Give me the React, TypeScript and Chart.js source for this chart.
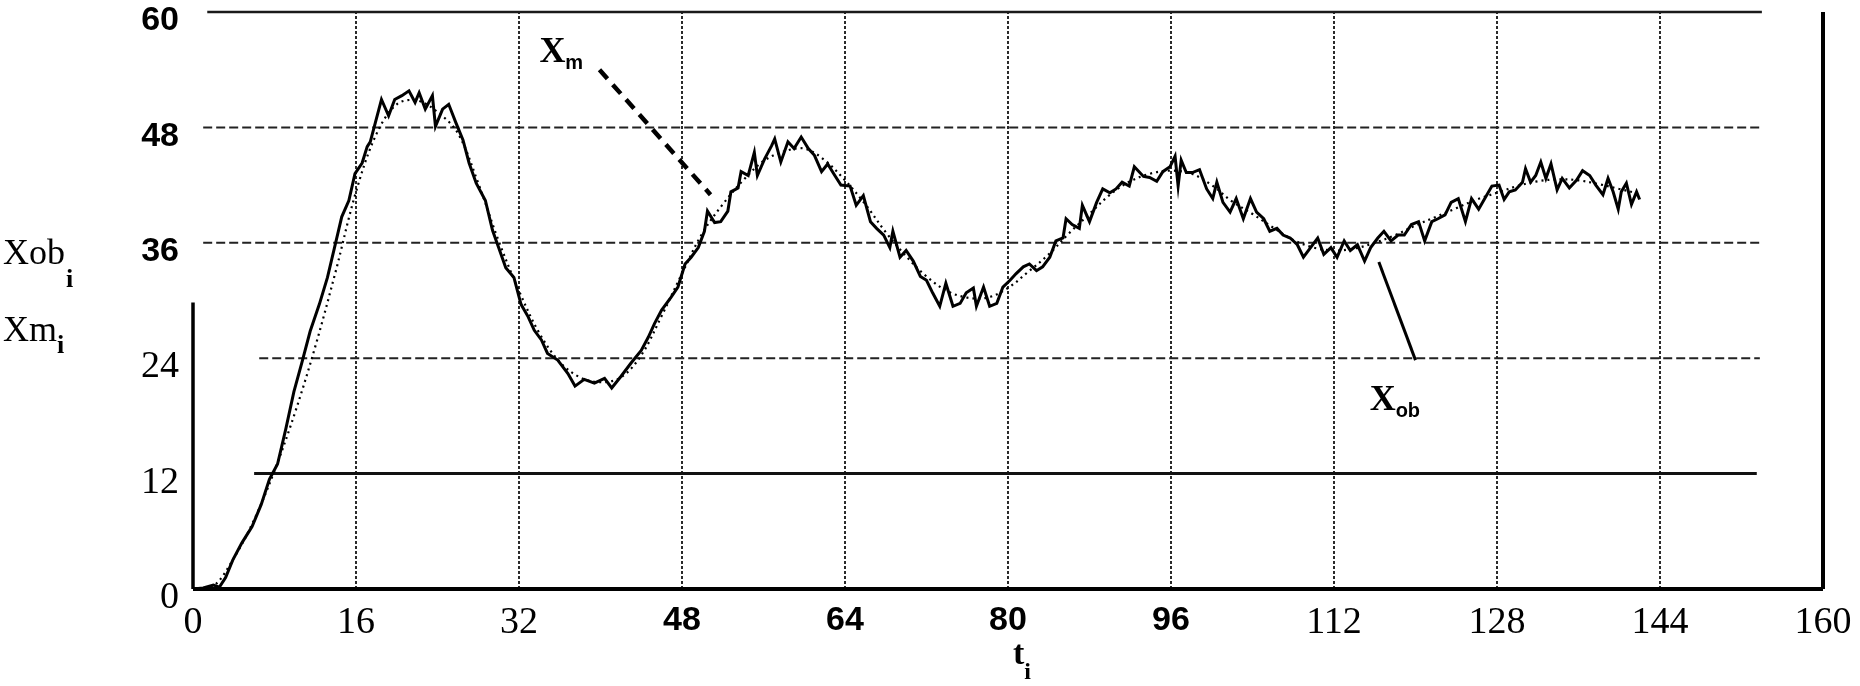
import React, { useEffect, useRef } from 'react';
import { Chart, registerables } from 'chart.js';

Chart.register(...registerables);

// ---- data ----
const X_TICKS = [0, 16, 32, 48, 64, 80, 96, 112, 128, 144, 160];
const Y_TICKS = [0, 12, 24, 36, 48, 60];

// measured (noisy) response Xob
const XOB_T = [
  0, 1, 2, 2.6, 3.2, 3.9, 4.8, 5.8, 6.7, 7.5, 8.3, 9.1, 9.9, 10.7, 11.5, 12.4, 13.2, 14.0, 14.6, 15.3, 15.9,
  16.6, 17.1, 17.4, 17.9, 18.5, 19.2, 19.8, 20.5, 21.2, 21.8, 22.2, 22.8, 23.5, 23.8, 24.5, 25.1, 25.8, 26.5,
  27.1, 27.8, 28.7, 29.4, 30.0, 30.7, 31.5,
  32.2, 32.9, 33.5, 34.2, 34.8, 35.8, 36.8, 37.5, 38.4, 39.4, 40.4, 41.1, 42.0, 43.0, 44.0, 44.7, 45.3, 46.0,
  46.9, 47.6, 48.3, 48.9, 49.6, 50.2, 50.5, 51.2, 51.8, 52.5, 52.8, 53.5, 53.8, 54.5, 55.1, 55.4, 56.1, 56.8,
  57.1, 57.7, 58.4, 59.0, 59.7, 60.4, 61.0, 61.7, 62.3, 63.0, 63.6,
  64.5, 65.1, 65.8, 66.5, 67.1, 67.8, 68.4, 68.7, 69.4, 70.0, 70.7, 71.4, 72.0, 72.6, 73.3, 73.9, 74.6, 75.3,
  75.9, 76.6, 76.9, 77.6, 78.2, 78.9, 79.5, 80.2, 80.8, 81.5, 82.1, 82.8, 83.4, 84.1, 84.7, 85.4, 85.7, 86.3,
  87.0, 87.3, 88.0, 88.7, 89.3, 90.0, 90.6, 91.2, 91.9, 92.4, 93.3, 93.9, 94.6, 95.2, 95.9,
  96.4, 96.7, 97.0, 97.5, 98.1, 98.8, 99.5, 100.1, 100.5, 101.1, 101.8, 102.4, 103.1, 103.8, 104.4, 105.1,
  105.7, 106.4, 107.0, 107.7, 108.4, 109.0, 109.7, 110.4, 111.0, 111.7, 112.3, 113.0, 113.6, 114.3, 115.0,
  115.6, 116.3, 116.9, 117.6, 118.3, 118.9, 119.6, 120.3, 120.9, 121.6, 122.2, 122.9, 123.5, 124.2, 124.9,
  125.5, 126.2, 126.8, 127.5,
  128.2, 128.7, 129.2, 129.8, 130.5, 130.8, 131.3, 131.8, 132.3, 132.8, 133.3, 133.9, 134.4, 135.1, 135.8,
  136.4, 137.1, 137.7, 138.4, 138.9, 139.4, 139.9, 140.2, 140.7, 141.2, 141.7, 142.0,
];
const XOB_V = [
  0, 0.1, 0.4, 0.2, 1.2, 3.0, 4.8, 6.5, 8.8, 11.4, 13, 16.6, 20.5, 23.6, 26.8, 29.6, 32.4, 36, 38.7, 40.4, 43.2,
  44.3, 46, 46.5, 48.5, 50.9, 49.2, 50.9, 51.3, 51.8, 50.6, 51.6, 49.9, 51.3, 48.1, 49.9, 50.4, 48.5, 46.7,
  44.3, 42.2, 40.4, 37.3, 35.5, 33.4, 32.4,
  29.6, 28.3, 26.9, 25.9, 24.5, 23.8, 22.4, 21.1, 21.8, 21.4, 21.9, 20.9, 22.1, 23.5, 24.8, 26.2, 27.6, 29.0,
  30.3, 31.4, 33.8, 34.5, 35.5, 37.2, 39.3, 38.1, 38.2, 39.3, 41.3, 41.7, 43.4, 43.0, 45.4, 43.0, 44.7, 46.1,
  46.8, 44.4, 46.5, 45.8, 47.0, 45.8, 45.1, 43.4, 44.2, 43.0, 42.0,
  41.9, 39.9, 40.9, 38.2, 37.5, 36.8, 35.5, 37.2, 34.5, 35.2, 34.1, 32.5, 32.1, 30.8, 29.4, 31.8, 29.4, 29.7,
  30.8, 31.3, 29.4, 31.4, 29.4, 29.7, 31.4, 32.1, 32.8, 33.5, 33.8, 33.1, 33.5, 34.5, 36.2, 36.5, 38.5, 37.9,
  37.5, 39.9, 38.2, 40.2, 41.6, 41.2, 41.6, 42.3, 41.9, 43.9, 42.9, 42.8, 42.4, 43.4, 43.9,
  45.0, 41.9, 44.6, 43.3, 43.3, 43.6, 41.6, 40.6, 42.3, 40.2, 39.2, 40.6, 38.5, 40.6, 39.2, 38.5,
  37.2, 37.5, 36.8, 36.5, 35.8, 34.5, 35.5, 36.5, 34.8, 35.5, 34.5, 36.2, 35.2, 35.8, 34.1,
  35.5, 36.5, 37.2, 36.2, 36.8, 36.8, 37.9, 38.2, 36.2, 38.2, 38.5, 38.9, 40.2, 40.6, 38.2,
  40.6, 39.5, 40.6, 41.9,
  42.0, 40.5, 41.3, 41.5, 42.3, 43.7, 42.3, 43.0, 44.4, 42.7, 44.2, 41.5, 42.7, 41.7, 42.5,
  43.5, 43.0, 42.0, 41.0, 42.7, 41.3, 39.5, 41.3, 42.2, 40.0, 41.3, 40.5,
];

// model response Xm (smooth, dotted)
const XM_T = [
  0, 2, 4, 6, 8, 10, 12, 14, 16, 18, 20, 22, 24, 26, 28, 30, 32, 34, 36, 38, 40, 42, 44, 46, 48, 50, 52, 54,
  56, 58, 60, 62, 64, 66, 68, 70, 72, 74, 76, 78, 80, 82, 84, 86, 88, 90, 92, 94, 96, 98, 100, 102, 104, 106,
  108, 110, 112, 114, 116, 118, 120, 122, 124, 126, 128, 130, 132, 134, 136, 138, 140, 142,
];
const XM_V = [
  0, 0.3, 3.2, 7.2, 12.3, 18.3, 25.2, 33, 41.3, 47.3, 50.4, 50.8, 49.6, 47.4, 42.2, 36.2, 31, 26.6, 23.6, 22,
  21.5, 22, 24.3, 28.4, 32.8, 37, 40, 42.5, 44.5, 45.5, 45.8, 44.6, 42.5, 40, 37.1, 34.6, 32.5, 31, 30.3, 30.3,
  31.3, 33, 34.8, 37, 39, 41, 42.4, 43.2, 43.5, 43.2, 42, 40.3, 39, 37.6, 36.3, 35.5, 35.2, 35.4, 36, 36.8,
  37.8, 38.7, 39.6, 40.5, 41.2, 41.9, 42.4, 42.6, 42.5, 42.1, 41.6, 41.1,
];

// annotation pointers and labels (data coordinates)
const XM_POINTER_T = [39.9, 50.8];
const XM_POINTER_V = [54.0, 41.0];
const XOB_POINTER_T = [116.4, 120.0];
const XOB_POINTER_V = [34.0, 23.8];
const NOTE_T = [34.0, 115.5];
const NOTE_V = [54.8, 18.6];
const NOTE_MAIN = ['X', 'X'];
const NOTE_SUB = ['m', 'ob'];

const SERIF = '"Liberation Serif", "Times New Roman", serif';
const SANS = '"Liberation Sans", Arial, sans-serif';

function drawSub(ctx: CanvasRenderingContext2D, main: string, sub: string, x: number, base: number,
  mainFont: string, subFont: string, subDrop: number, gap: number) {
  ctx.font = mainFont;
  ctx.textAlign = 'left';
  ctx.textBaseline = 'alphabetic';
  ctx.fillText(main, x, base);
  const w = ctx.measureText(main).width;
  ctx.font = subFont;
  ctx.fillText(sub, x + w + gap, base + subDrop);
}

const framePlugin = {
  id: 'scanFrame',
  beforeDatasetsDraw(chart: any) {
    const { ctx } = chart;
    const xs = chart.scales.x;
    const ys = chart.scales.y;
    const X = (t: number) => xs.getPixelForValue(t);
    const Y = (v: number) => ys.getPixelForValue(v);
    const seg = (x1: number, y1: number, x2: number, y2: number) => {
      ctx.beginPath();
      ctx.moveTo(x1, y1);
      ctx.lineTo(x2, y2);
      ctx.stroke();
    };
    ctx.save();
    ctx.lineCap = 'butt';
    // vertical grid lines
    ctx.strokeStyle = '#2a2a2a';
    ctx.lineWidth = 2;
    ctx.setLineDash([3, 2]);
    X_TICKS.forEach((t) => {
      if (t > 0 && t < 160) seg(X(t), Y(0), X(t), Y(60));
    });
    // horizontal grid lines
    Y_TICKS.forEach((v) => {
      if (v === 0) return;
      if (v === 12) {
        ctx.setLineDash([]);
        ctx.lineWidth = 3;
        ctx.strokeStyle = '#111';
        seg(X(6), Y(v), X(153.5), Y(v));
      } else if (v === 60) {
        ctx.setLineDash([]);
        ctx.lineWidth = 2.5;
        ctx.strokeStyle = '#1a1a1a';
        seg(X(1.4), Y(v), X(154), Y(v));
      } else {
        ctx.setLineDash([9, 4]);
        ctx.lineWidth = 2;
        ctx.strokeStyle = '#222';
        seg(X(v === 24 ? 6.5 : 1), Y(v), X(153.8), Y(v));
      }
    });
    // axis frame
    ctx.setLineDash([]);
    ctx.strokeStyle = '#000';
    ctx.lineWidth = 4;
    seg(X(0), Y(0), X(160), Y(0));
    seg(X(160), Y(0), X(160), Y(60));
    ctx.lineWidth = 3.5;
    seg(X(0), Y(0), X(0), Y(29.8));
    ctx.restore();
  },
  afterDatasetsDraw(chart: any) {
    const { ctx } = chart;
    const xs = chart.scales.x;
    const ys = chart.scales.y;
    const X = (t: number) => xs.getPixelForValue(t);
    const Y = (v: number) => ys.getPixelForValue(v);
    ctx.save();
    ctx.strokeStyle = '#000';
    ctx.fillStyle = '#000';
    // Xm pointer (dashed, heavy)
    ctx.lineWidth = 4.5;
    ctx.setLineDash([12, 8]);
    ctx.beginPath();
    ctx.moveTo(X(XM_POINTER_T[0]), Y(XM_POINTER_V[0]));
    ctx.lineTo(X(XM_POINTER_T[1]), Y(XM_POINTER_V[1]));
    ctx.stroke();
    // Xob pointer (solid)
    ctx.setLineDash([]);
    ctx.lineWidth = 3;
    ctx.beginPath();
    ctx.moveTo(X(XOB_POINTER_T[0]), Y(XOB_POINTER_V[0]));
    ctx.lineTo(X(XOB_POINTER_T[1]), Y(XOB_POINTER_V[1]));
    ctx.stroke();
    // curve labels
    NOTE_MAIN.forEach((m, i) => {
      drawSub(ctx, m, NOTE_SUB[i], X(NOTE_T[i]), Y(NOTE_V[i]),
        `bold 36px ${SERIF}`, `bold 20px ${SANS}`, 7, 0);
    });
    // axis titles
    drawSub(ctx, 'Xob', 'i', 3, 264, `36px ${SERIF}`, `bold 26px ${SERIF}`, 23, 1);
    drawSub(ctx, 'Xm', 'i', 3, 341, `36px ${SERIF}`, `bold 26px ${SERIF}`, 12, 0);
    drawSub(ctx, 't', 'i', 1013, 664, `bold 34px ${SERIF}`, `bold 24px ${SERIF}`, 15, 0);
    ctx.restore();
  },
};

export default function App() {
  const ref = useRef<HTMLCanvasElement | null>(null);
  useEffect(() => {
    if (!ref.current) return;
    const xob = XOB_T.map((t, i) => ({ x: t, y: XOB_V[i] }));
    const xm = XM_T.map((t, i) => ({ x: t, y: XM_V[i] }));
    const tickFont = (bold: boolean) =>
      bold ? { family: SANS, size: 34, weight: 'bold' as const } : { family: SERIF, size: 38, weight: 'normal' as const };
    const chart = new Chart(ref.current, {
      type: 'line',
      data: {
        datasets: [
          {
            label: 'Xob',
            data: xob,
            borderColor: '#000',
            borderWidth: 3,
            pointRadius: 0,
            tension: 0,
            fill: false,
          },
          {
            label: 'Xm',
            data: xm,
            borderColor: '#000',
            borderWidth: 2.2,
            borderDash: [2, 4],
            pointRadius: 0,
            tension: 0.35,
            fill: false,
          },
        ],
      },
      options: {
        animation: false,
        responsive: false,
        devicePixelRatio: 1,
        parsing: true,
        layout: { padding: { top: 12, right: 37, left: 0, bottom: 0 } },
        plugins: { legend: { display: false }, tooltip: { enabled: false } },
        scales: {
          x: {
            type: 'linear',
            min: 0,
            max: 160,
            grid: { display: false, drawTicks: false },
            border: { display: false },
            afterFit: (s: any) => {
              s.height = 97;
              s.paddingLeft = 0;
              s.paddingRight = 0;
            },
            afterBuildTicks: (s: any) => {
              s.ticks = X_TICKS.map((v) => ({ value: v }));
            },
            ticks: {
              color: '#000',
              padding: 11,
              maxRotation: 0,
              autoSkip: false,
              font: (c: any) => tickFont(c.tick && c.tick.value >= 48 && c.tick.value <= 96),
              callback: (v: any) => String(v),
            },
          },
          y: {
            type: 'linear',
            min: 0,
            max: 60,
            grid: { display: false, drawTicks: false },
            border: { display: false },
            afterFit: (s: any) => {
              s.width = 193;
              s.paddingTop = 0;
              s.paddingBottom = 0;
            },
            afterBuildTicks: (s: any) => {
              s.ticks = Y_TICKS.map((v) => ({ value: v }));
            },
            ticks: {
              color: '#000',
              padding: 14,
              labelOffset: 9,
              autoSkip: false,
              font: (c: any) => tickFont(c.tick && c.tick.value >= 36),
              callback: (v: any) => String(v),
            },
          },
        },
      },
      plugins: [framePlugin],
    });
    return () => chart.destroy();
  }, []);
  return (
    <div style={{ position: 'absolute', left: 0, top: 0, width: 1860, height: 686, background: '#fff' }}>
      <canvas ref={ref} width={1860} height={686} style={{ width: 1860, height: 686, display: 'block' }} />
    </div>
  );
}
